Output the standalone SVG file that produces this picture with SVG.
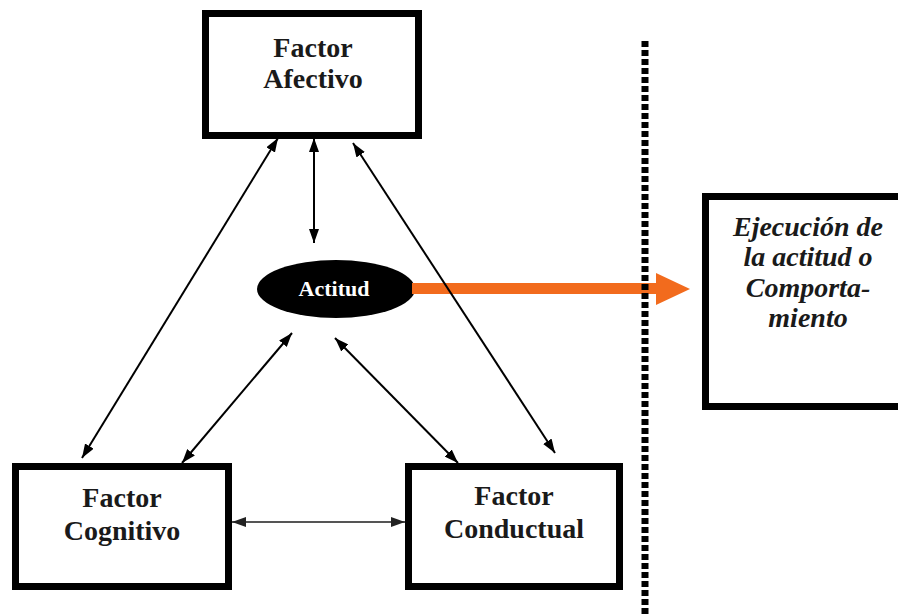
<svg xmlns="http://www.w3.org/2000/svg" width="898" height="615" viewBox="0 0 898 615">
  <style>
    .box { fill: #ffffff; stroke: #000000; stroke-width: 7; }
    .lbl { font-family: "Liberation Serif", "Times New Roman", serif; font-weight: bold; font-size: 28px; fill: #1a1a1a; text-anchor: middle; }
    .ital { font-style: italic; }
    .conn { stroke: #000000; stroke-width: 2; fill: none; marker-start: url(#ah); marker-end: url(#ah); }
    .conn-gray { stroke: #555555; stroke-width: 2; fill: none; marker-start: url(#ahg); marker-end: url(#ahg); }
  </style>
  <defs>
    <marker id="ah" viewBox="0 0 14 10" refX="14" refY="5" markerWidth="14" markerHeight="10" markerUnits="userSpaceOnUse" orient="auto-start-reverse">
      <path d="M0,0 L14,5 L0,10 z" fill="#000000"/>
    </marker>
    <marker id="ahg" viewBox="0 0 14 10" refX="14" refY="5" markerWidth="14" markerHeight="10" markerUnits="userSpaceOnUse" orient="auto-start-reverse">
      <path d="M0,0 L14,5 L0,10 z" fill="#222222"/>
    </marker>
  </defs>
  <rect width="898" height="615" fill="#ffffff"/>

  <g id="afectivo">
    <rect class="box" x="205.5" y="13.5" width="213" height="122"/>
    <text class="lbl" x="313" y="57">Factor</text>
    <text class="lbl" x="313" y="88">Afectivo</text>
  </g>

  <g id="cognitivo">
    <rect class="box" x="15.5" y="466.5" width="213" height="120"/>
    <text class="lbl" x="122" y="507">Factor</text>
    <text class="lbl" x="122" y="540">Cognitivo</text>
  </g>

  <g id="conductual">
    <rect class="box" x="408.5" y="466.5" width="211" height="120"/>
    <text class="lbl" x="514" y="505">Factor</text>
    <text class="lbl" x="514" y="538">Conductual</text>
  </g>

  <g id="ejecucion">
    <rect class="box" x="705.5" y="196.5" width="200" height="210"/>
    <text class="lbl ital" x="808" y="236">Ejecución de</text>
    <text class="lbl ital" x="808" y="266">la actitud o</text>
    <text class="lbl ital" x="808" y="297">Comporta-</text>
    <text class="lbl ital" x="808" y="327">miento</text>
  </g>

  <g id="actitud">
    <ellipse cx="336" cy="289" rx="79" ry="29" fill="#000000"/>
    <text class="lbl" x="334" y="296" style="font-size:22px; fill:#ffffff">Actitud</text>
  </g>

  <g id="orange-arrow">
    <rect x="412" y="283" width="246" height="11" fill="#F26B1D"/>
    <polygon points="656,273 690,289 656,305" fill="#F26B1D"/>
  </g>

  <g id="connectors">
    <line class="conn" x1="278" y1="138" x2="82" y2="458"/>
    <line class="conn" x1="314" y1="138" x2="314" y2="243"/>
    <line class="conn" x1="353" y1="143" x2="555" y2="453"/>
    <line class="conn" x1="292" y1="333" x2="182" y2="463"/>
    <line class="conn" x1="335" y1="338" x2="458" y2="463"/>
    <line class="conn-gray" x1="232" y1="522" x2="405" y2="522"/>
  </g>

  <g id="divider">
    <line x1="645" y1="41" x2="645" y2="615" stroke="#000000" stroke-width="7" stroke-dasharray="6 3"/>
  </g>
</svg>
